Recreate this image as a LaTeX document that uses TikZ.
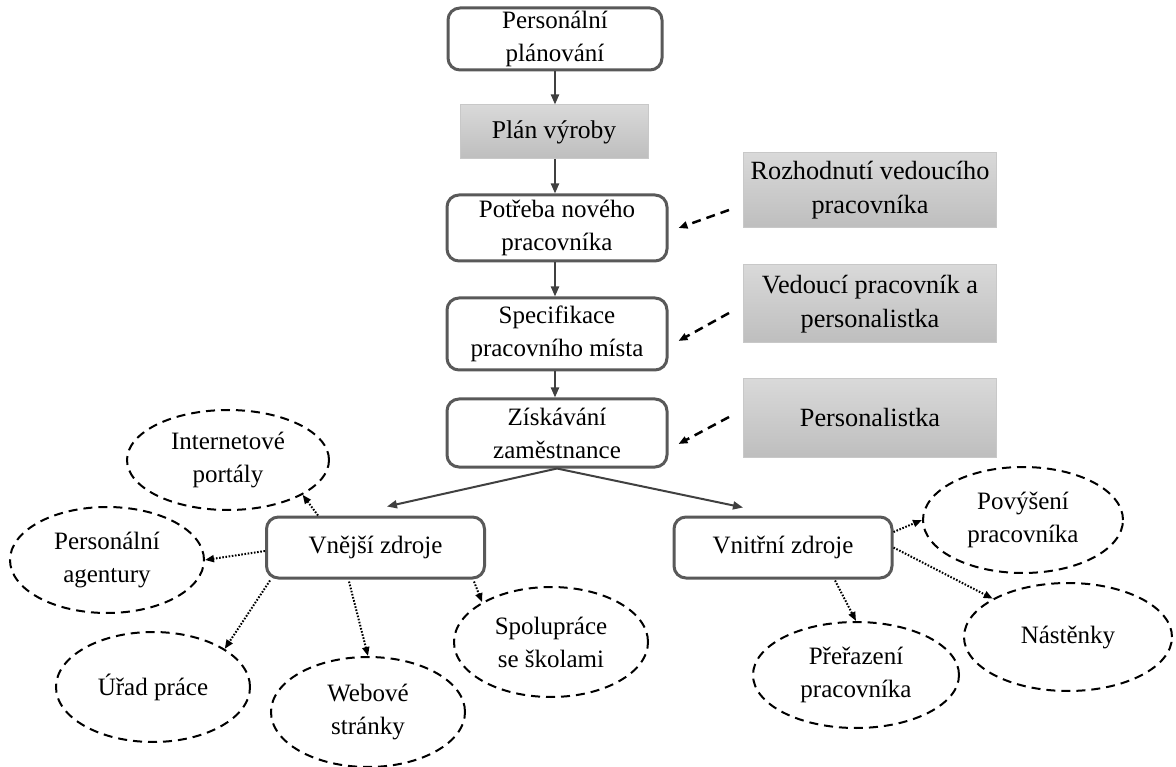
\documentclass[tikz,border=0pt]{standalone}
\usepackage{fontspec}
\setmainfont{Liberation Serif}
\usetikzlibrary{arrows.meta,shapes.geometric,calc}
\definecolor{boxline}{HTML}{595959}
\definecolor{arrowgray}{HTML}{404040}
\definecolor{graytop}{HTML}{D9D9D9}
\definecolor{graybot}{HTML}{BEBEBE}
\definecolor{grayedge}{HTML}{C8C8C8}
\tikzset{
  every node/.style={font=\fontsize{25}{33}\selectfont, align=center, inner sep=0pt},
  stagebox/.style={draw=boxline, line width=3pt, rounded corners=12pt, fill=white},
  rolebox/.style={draw=grayedge, line width=1pt, top color=graytop, bottom color=graybot,
    font=\fontsize{26.3}{34}\selectfont},
  source/.style={ellipse, draw=black, line width=2pt, dash pattern=on 9pt off 6pt},
  flow/.style={draw=arrowgray, line width=2pt, -{Triangle[length=10pt,width=8pt]}},
  duty/.style={draw=black, line width=2.5pt, dash pattern=on 9pt off 6pt, -{Triangle[length=9pt,width=7pt]}},
  branch/.style={draw=black, line width=2pt, dash pattern=on 1.6pt off 1.6pt, -{Triangle[length=9pt,width=7pt]}}
}
\begin{document}
\begin{tikzpicture}[x=1pt,y=-1pt]
\useasboundingbox (0,0) rectangle (1176,767);

% main process column
\node[stagebox, minimum width=214pt, minimum height=62pt] (pp) at (555,39) {Personální\\plánování};
\node[rolebox, minimum width=188pt, minimum height=54pt, font=\fontsize{25.6}{33}\selectfont] (pv) at (554,132) {Plán výroby};
\node[stagebox, minimum width=220pt, minimum height=66pt] (pn) at (557,228) {Potřeba nového\\pracovníka};
\node[stagebox, minimum width=220pt, minimum height=72pt] (sp) at (557,334) {Specifikace\\pracovního místa};
\node[stagebox, minimum width=220pt, minimum height=68pt] (zz) at (557,433) {Získávání\\zaměstnance};

% responsible persons
\node[rolebox, minimum width=253pt, minimum height=75pt] (rv) at (870,190) {Rozhodnutí vedoucího\\pracovníka};
\node[rolebox, minimum width=253pt, minimum height=78pt] (vp) at (870,304) {Vedoucí pracovník a\\personalistka};
\node[rolebox, minimum width=253pt, minimum height=78pt] (ps) at (870,418) {Personalistka};

% external and internal sources
\node[stagebox, minimum width=218pt, minimum height=61pt] (vne) at (375.5,547.5) {Vnější zdroje};
\node[stagebox, minimum width=218pt, minimum height=61pt] (vni) at (783,547.5) {Vnitřní zdroje};

\node[source, minimum width=202pt, minimum height=100pt] (int) at (228,460) {Internetové\\portály};
\node[source, minimum width=194pt, minimum height=106pt] (pa) at (107,560) {Personální\\agentury};
\node[source, minimum width=194pt, minimum height=110pt] (up) at (153,687) {Úřad práce};
\node[source, minimum width=194pt, minimum height=110pt] (ws) at (368,712) {Webové\\stránky};
\node[source, minimum width=194pt, minimum height=110pt] (sk) at (551,642) {Spolupráce\\se školami};
\node[source, minimum width=200pt, minimum height=106pt] (pov) at (1023,520) {Povýšení\\pracovníka};
\node[source, minimum width=208pt, minimum height=108pt] (nas) at (1068,637) {Nástěnky};
\node[source, minimum width=206pt, minimum height=106pt] (pre) at (856,675) {Přeřazení\\pracovníka};

% process flow, drawn straight down the column
\coordinate (axis) at (555,0);
\draw[flow] (axis |- pp.south) -- (axis |- pv.north);
\draw[flow] (axis |- pv.south) -- (axis |- pn.north);
\draw[flow] (axis |- pn.south) -- (axis |- sp.north);
\draw[flow] (axis |- sp.south) -- (axis |- zz.north);
\draw[flow] (zz.south) -- ($(vne.north)+(11.5,-9)$);
\draw[flow] (zz.south) -- ($(vni.north)+(-40,-8)$);

% who decides each step
\draw[duty] ($(rv.west)+(-14,20)$) -- ($(pn.east)+(10,0)$);
\draw[duty] ($(vp.west)+(-14,9)$) -- ($(sp.east)+(10,7)$);
\draw[duty] ($(ps.west)+(-14,-1)$) -- ($(zz.east)+(10,11)$);

% external channels
\draw[branch] ($(vne.north)+(-57.5,0)$) -- (int.-25);
\draw[branch] ($(vne.west)+(0,3.5)$) -- (pa.east);
\draw[branch] ($(vne.south west)+(5,1)$) -- (up.28);
\draw[branch] ($(vne.south)+(-26.5,2)$) -- (ws.north);
\draw[branch] ($(vne.south east)+(-12,2)$) -- (sk.150);

% internal channels
\draw[branch] ($(vni.east)+(0,-15.5)$) -- (pov.west);
\draw[branch] (vni.east) -- (nas.153);
\draw[branch] ($(vni.south)+(52,1)$) -- (pre.north);
\end{tikzpicture}
\end{document}
